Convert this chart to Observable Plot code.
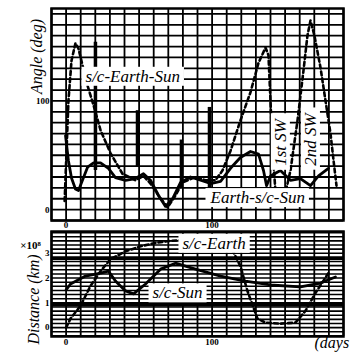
<!DOCTYPE html>
<html><head><meta charset="utf-8">
<script src="https://cdn.jsdelivr.net/npm/d3@7"></script>
<script src="https://cdn.jsdelivr.net/npm/@observablehq/plot@0.6"></script>
<style>
body{margin:0;background:#fff;}
#chart{width:350px;height:356px;overflow:hidden;background:#fff;}
#chart svg{display:block;background:#fff;}
</style></head><body><div id="chart"></div>
<script>
// ---- Top panel: angles (deg) vs time (days)
const sepDays   = [-1,0.3,1.6,3.7,6.4,8.5,11.2,14.7,18.8,23.6,30.4,38.6,47.5,53,57.8,63.3,69.5,74.9,79.7,88.6,95.5,102.3,107.1,112.6,119.4,126.3,131.8,136.6,138.6,140,141.4,143.4,148.9,153.7,158.5,162.6,165.3,167.4,170.1,174.2,177.7,181.1,183.2,185.2];
const sepAngle  = [8,54,100,137,153,148,133,114,96,73,52,33,27,31,24,13,2,13,25,30,27,27,36,54,82,108,135,149,142,100,54,17,8,36,82,128,160,174,160,131,100,70,45,22];
const escDays   = [-0.4,1.6,3.7,6.4,8.5,11.2,14.7,18.8,23.6,29,33.8,40.7,47.5,53,57.8,63.3,68.1,72.9,78.4,85.2,92.1,98.9,105.8,112.6,119.4,126.3,131.8,135.2,137.3,140,146.8,153.7,160.5,167.4,172.9,179.7];
const escAngle  = [68,45,29,19,17.5,27,39,43,43,38,29.5,27,28.6,33,27,13,3,10,25,30,27,24,26,38,48,53.5,51,36,22,31,36,27,28.6,22,31,38];
const markDays  = [20.1,48.9,79,98.2];
const markLow   = [36,39,20,20];
const markHigh  = [154,91,64,94];
// ---- Bottom panel: distances (x10^8 km)
const earthDays = [0,3,9.9,16.7,23.6,30.4,40.7,51,61.2,71.5,85.2,98.9,112.6,119.4,124.2,131.1,136.6,146.8,157.1,164,170.8,179.7];
const earthDist = [0,0.36,0.88,1.68,2.28,2.76,3.08,3.28,3.42,3.5,3.56,3.52,3.28,2.48,1.48,0.36,0.2,0.16,0.2,0.68,1.4,2.2];
const sunDays   = [0,3,13.3,23.6,29,33.8,40.7,46.2,54.4,64.7,74.9,88.6,105.8,122.8,140,160.5,174.2,184.5];
const sunDist   = [1.52,1.76,2.08,2.2,2.28,1.88,1.48,1.36,1.76,2.36,2.6,2.36,2.08,1.88,1.72,1.64,1.8,2.04];
const heavyDist = [0.92,2.8];
// ---- ticks & labels
const xTicks = [0,100];
const angleTicks = [0,100];
const distTicks = [0,1,2,3];
const gridDays = d3.range(-10,191,10);
const gridAngle = d3.range(-10,181,10);
const gridDist = d3.range(-2,24).map(i=>i/6);
const topLabels = [{t:"s/c-Earth-Sun",d:13.3,v:122.6},{t:"Earth-s/c-Sun",d:98.9,v:11}];
const swLabels = [{t:"1st SW",d:146.8,v:61.8},{t:"2nd SW",d:167.4,v:64.5}];
const botLabels = [{t:"s/c-Earth",d:79.7,v:3.4},{t:"s/c-Sun",d:59.2,v:1.4}];

const SERIF = "'Liberation Serif', 'DejaVu Serif', serif";
const toPts = (xs,ys)=>xs.map((x,i)=>({x,y:ys[i]}));
const markRows = markDays.map((d,i)=>({d,lo:markLow[i],hi:markHigh[i]}));

const anglePlot = Plot.plot({
  width:350,height:230,marginLeft:51,marginRight:7,marginTop:8,marginBottom:10,
  style:{fontFamily:SERIF,background:"white"},
  x:{domain:[-10,190],axis:null},
  y:{domain:[-10,185],axis:null},
  marks:[
    Plot.ruleX(gridDays,{stroke:"black",strokeWidth:1.8}),
    Plot.ruleY(gridAngle,{stroke:"black",strokeWidth:1.8}),
    Plot.ruleX(markRows,{x:"d",y1:"lo",y2:"hi",stroke:"black",strokeWidth:3.5}),
    Plot.frame({stroke:"black",strokeWidth:2.5}),
    Plot.line(toPts(escDays,escAngle),{x:"x",y:"y",stroke:"black",strokeWidth:2.8}),
    Plot.line(toPts(sepDays,sepAngle),{x:"x",y:"y",stroke:"black",strokeWidth:2.6,strokeDasharray:"4,3"}),
    Plot.axisY(angleTicks,{tickSize:0,tickPadding:2,fontSize:9,fontWeight:"bold",label:null}),
    Plot.axisX(xTicks,{tickSize:0,tickPadding:1,fontSize:9,fontWeight:"bold",label:null}),
    Plot.text(["Angle (deg)"],{frameAnchor:"top-left",dx:-21,dy:48,rotate:-90,fontSize:16,fontFamily:SERIF,fontStyle:"italic",textAnchor:"middle"}),
    Plot.text(topLabels,{x:"d",y:"v",text:"t",textAnchor:"start",fontSize:17,fontFamily:SERIF,fontStyle:"italic",fill:"black",ariaDescription:"lbl"}),
    Plot.text(swLabels,{x:"d",y:"v",text:"t",rotate:-90,textAnchor:"middle",fontSize:17,fontFamily:SERIF,fontStyle:"italic",fill:"black",ariaDescription:"lbl"})
  ]
});

const distPlot = Plot.plot({
  width:350,height:126,marginLeft:51,marginRight:7,marginTop:1,marginBottom:20,
  style:{fontFamily:SERIF,background:"white"},
  x:{domain:[-10,190],axis:null},
  y:{domain:[-0.36,3.88],axis:null},
  marks:[
    Plot.ruleX(gridDays,{stroke:"black",strokeWidth:1.8}),
    Plot.ruleY(gridDist,{stroke:"black",strokeWidth:1.6}),
    Plot.ruleY(heavyDist,{stroke:"black",strokeWidth:3.5}),
    Plot.frame({stroke:"black",strokeWidth:2.5}),
    Plot.line(toPts(sunDays,sunDist),{x:"x",y:"y",stroke:"black",strokeWidth:2.8}),
    Plot.line(toPts(earthDays,earthDist),{x:"x",y:"y",stroke:"black",strokeWidth:2.6,strokeDasharray:"4,3"}),
    Plot.axisY(distTicks,{tickSize:0,tickPadding:2,fontSize:9,fontWeight:"bold",label:null}),
    Plot.axisX(xTicks,{tickSize:0,tickPadding:2,fontSize:9,fontWeight:"bold",label:null}),
    Plot.text(["Distance (km)"],{frameAnchor:"top-left",dx:-24,dy:68,rotate:-90,fontSize:16,fontFamily:SERIF,fontStyle:"italic",textAnchor:"middle"}),
    Plot.text(["×10⁸"],{frameAnchor:"top-left",dx:-21,dy:10,fontSize:11,fontWeight:"bold",textAnchor:"middle"}),
    Plot.text(["(days"],{frameAnchor:"bottom-right",dx:-29,dy:11,fontSize:16,fontFamily:SERIF,fontStyle:"italic",textAnchor:"start"}),
    Plot.text(botLabels,{x:"d",y:"v",text:"t",textAnchor:"start",fontSize:17,fontFamily:SERIF,fontStyle:"italic",fill:"black",ariaDescription:"lbl"})
  ]
});

const host = document.getElementById("chart");
host.append(anglePlot, distPlot);
for (const svg of [anglePlot, distPlot]) {
  svg.querySelectorAll('g[aria-description="lbl"] text').forEach(t => {
    const b = t.getBBox();
    const r = document.createElementNS("http://www.w3.org/2000/svg","rect");
    r.setAttribute("x", b.x-4); r.setAttribute("y", b.y);
    r.setAttribute("width", b.width+8); r.setAttribute("height", b.height);
    r.setAttribute("fill","white"); r.setAttribute("stroke","none");
    const tr = t.getAttribute("transform"); if (tr) r.setAttribute("transform", tr);
    t.parentNode.insertBefore(r, t);
  });
}
</script></body></html>
